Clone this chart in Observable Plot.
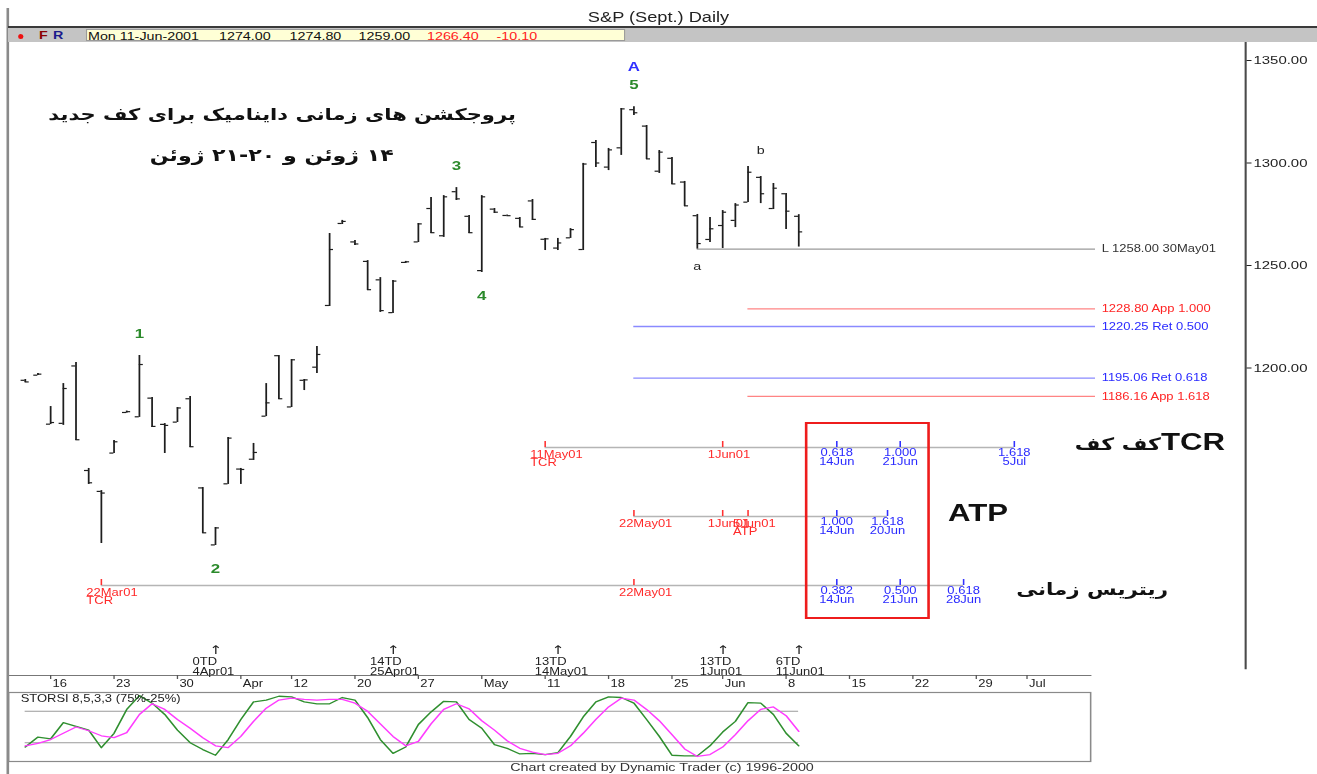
<!DOCTYPE html>
<html><head><meta charset="utf-8">
<script src="https://cdn.jsdelivr.net/npm/d3@7"></script>
<script src="https://cdn.jsdelivr.net/npm/@observablehq/plot@0.6"></script>
<style>
html,body{margin:0;padding:0;background:#fff;overflow:hidden;width:1317px;height:774px;}
#page{position:relative;width:1013px;height:774px;transform:scaleX(1.30010);transform-origin:0 0;font-family:"Liberation Sans",Arial,"DejaVu Sans",sans-serif;color:#222;}
.abs{position:absolute;white-space:nowrap;}
</style></head><body><div id="page"></div>
<script>
// ---------- data ----------
const tradingDays = ["03-14","03-15","03-16","03-19","03-20","03-21","03-22","03-23","03-26","03-27","03-28","03-29","03-30",
"04-02","04-03","04-04","04-05","04-06","04-09","04-10","04-11","04-12","04-16","04-17","04-18","04-19","04-20","04-23","04-24","04-25","04-26","04-27","04-30",
"05-01","05-02","05-03","05-04","05-07","05-08","05-09","05-10","05-11","05-14","05-15","05-16","05-17","05-18","05-21","05-22","05-23","05-24","05-25","05-29","05-30","05-31",
"06-01","06-04","06-05","06-06","06-07","06-08","06-11","06-12","06-13","06-14","06-15","06-18","06-19","06-20","06-21","06-22","06-25","06-26","06-27","06-28","06-29",
"07-02","07-03","07-05","07-06"];

const opens = [1194.0,1196.5,1172.6,1173.0,1201.0,1150.0,1139.8,1158.5,1178.3,1176.2,
1185.3,1172.5,1173.6,1185.0,1141.5,1113.7,1143.5,1150.7,1155.5,1176.5,
1206.0,1181.0,1194.0,1200.4,1230.5,1270.5,1261.5,1252.0,1243.0,1227.0,
1251.5,1261.5,1277.8,1264.5,1286.0,1274.0,1247.5,1277.5,1274.4,1273.0,
1281.5,1262.8,1258.5,1263.5,1257.8,1310.0,1298.0,1307.4,1326.0,1318.0,
1296.0,1302.3,1290.7,1274.3,1262.7,1269.5,1272.0,1280.9,1293.0,1277.8,
1285.0,1274.0];
const highs = [1194.4,1197.3,1181.2,1192.4,1202.7,1151.0,1140.2,1164.6,1179.0,1206.1,
1185.6,1172.9,1180.7,1186.1,1141.7,1122.2,1166.1,1151.0,1163.2,1192.4,
1206.1,1204.1,1194.4,1210.5,1265.6,1272.0,1262.2,1252.4,1244.1,1242.7,
1252.0,1270.5,1283.2,1284.1,1288.0,1274.4,1284.1,1277.8,1274.6,1273.4,
1282.2,1263.2,1263.2,1268.0,1299.8,1311.0,1307.1,1326.6,1327.5,1318.3,
1306.1,1302.7,1291.0,1274.9,1273.4,1276.8,1280.2,1298.3,1293.4,1290.0,
1285.1,1274.8];
const lows = [1192.9,1196.3,1172.4,1172.0,1164.6,1143.2,1114.4,1158.3,1178.0,1175.9,
1171.0,1158.3,1173.4,1161.2,1119.3,1113.4,1143.2,1143.2,1154.9,1176.3,
1184.6,1180.7,1189.0,1197.3,1230.0,1270.0,1259.8,1237.8,1227.1,1226.6,
1251.0,1261.2,1265.6,1263.7,1281.7,1265.6,1246.6,1275.4,1274.1,1268.5,
1272.0,1257.3,1257.3,1263.2,1257.3,1297.8,1296.3,1303.7,1323.2,1301.7,
1294.9,1289.5,1278.8,1258.0,1261.2,1258.3,1268.5,1280.7,1280.2,1277.3,
1267.6,1259.0];
const closes = [1193.2,1197.0,1173.4,1190.0,1165.0,1144.0,1139.0,1164.0,1178.7,1201.7,
1171.5,1172.0,1180.5,1161.6,1119.6,1122.0,1165.8,1150.5,1158.8,1183.0,
1185.0,1204.0,1194.2,1206.6,1257.8,1271.5,1260.5,1238.2,1228.0,1242.4,
1251.8,1270.3,1266.0,1283.5,1282.5,1266.0,1283.5,1276.0,1274.3,1268.8,
1272.5,1263.0,1261.0,1267.5,1299.5,1300.0,1306.4,1326.4,1324.5,1302.0,
1305.3,1289.8,1279.1,1260.7,1267.9,1276.0,1279.5,1295.5,1285.0,1287.7,
1276.5,1266.4];

// STORSI 8,5,3,3 fast (green) and slow (magenta)
const storsiFast = [18,34,31,57,51,45,17,40,78,100, 88,70,45,25,14,5,30,62,90,93, 99,98,90,87,87,97,93,65,30,8,
18,54,74,91,90,62,48,22,16,7, 8,6,9,35,66,90,98,97,88,62, 35,5,4,4,20,42,59,89,88,70, 40,20];
const storsiSlow = [20,24,30,40,50,44,36,33,41,70, 87,78,62,48,33,20,17,35,59,80, 93,96,94,93,94,94,88,75,55,35,
20,27,55,78,87,79,60,45,28,16, 10,6,8,20,40,62,82,96,93,78, 60,38,15,3,6,18,38,60,78,82, 68,43];
const storsiBands = [25, 75];
const storsiLabel = "STORSI 8,5,3,3 (75%-25%)";

const priceTicks = [1200, 1250, 1300, 1350];

const levelValues = [1258.00, 1228.80, 1220.25, 1195.06, 1186.16];
const levelLabels = ["L 1258.00 30May01", "1228.80 App 1.000", "1220.25 Ret 0.500", "1195.06 Ret 0.618", "1186.16 App 1.618"];
const levelKinds = ["low", "app", "ret", "ret", "app"];
const levelFrom = ["05-30", "06-05", "05-22", "05-22", "06-05"];

const waveText = ["1", "2", "3", "4", "5"];
const waveDates = ["03-27", "04-04", "05-02", "05-04", "05-22"];
const waveSides = ["high", "low", "high", "low", "high"];
const degreeText = ["A"];
const degreeDates = ["05-22"];
const abcText = ["a", "b"];
const abcDates = ["05-30", "06-06"];
const abcSides = ["low", "high"];

const axisTickDates = ["03-16","03-23","03-30","04-06","04-12","04-20","04-27","05-04","05-11","05-18","05-25","06-01","06-08","06-15","06-22","06-29","07-06"];
const axisTickLabels = ["16","23","30","Apr","12","20","27","May","11","18","25","Jun","8","15","22","29","Jul"];

const tdDates = ["04-04", "04-25", "05-14", "06-01", "06-11"];
const tdCounts = ["0TD", "14TD", "13TD", "13TD", "6TD"];
const tdLabels = ["4Apr01", "25Apr01", "14May01", "1Jun01", "11Jun01"];

const rowNames = ["TCR", "ATP", "RET"];
const rowFrom = ["05-11", "05-22", "03-22"];
const rowTo = ["07-05", "06-20", "06-28"];

const startRows = ["TCR", "TCR", "ATP", "ATP", "ATP", "RET", "RET"];
const startDates = ["05-11", "06-01", "05-22", "06-01", "06-05", "03-22", "05-22"];
const startTexts = ["11May01\nTCR", "1Jun01", "22May01", "1Jun01", "5Jun01\nATP", "22Mar01\nTCR", "22May01"];

const targetRows = ["TCR", "TCR", "TCR", "ATP", "ATP", "RET", "RET", "RET"];
const targetDates = ["06-14", "06-21", "07-05", "06-14", "06-20", "06-14", "06-21", "06-28"];
const targetRatios = ["0.618", "1.000", "1.618", "1.000", "1.618", "0.382", "0.500", "0.618"];
const targetLabels = ["14Jun", "21Jun", "5Jul", "14Jun", "20Jun", "14Jun", "21Jun", "28Jun"];

const windowFrom = "06-14", windowTo = "06-21";

// ---------- build tables ----------
const dayIndex = new Map(tradingDays.map((d, k) => [d, k]));
const at = d => dayIndex.get(d);
const bars = opens.map((o, k) => ({n: k, date: tradingDays[k], open: o, high: highs[k], low: lows[k], close: closes[k]}));
const barByDate = new Map(bars.map(b => [b.date, b]));
const levels = levelValues.map((v, k) => ({value: v, label: levelLabels[k], kind: levelKinds[k], from: levelFrom[k]}));
const waves = waveText.map((t, k) => ({text: t, date: waveDates[k], side: waveSides[k]}));
const degrees = degreeText.map((t, k) => ({text: t, date: degreeDates[k]}));
const abc = abcText.map((t, k) => ({text: t, date: abcDates[k], side: abcSides[k]}));
const axisTicks = axisTickDates.map((d, k) => ({date: d, label: axisTickLabels[k]}));
const tds = tdDates.map((d, k) => ({date: d, count: tdCounts[k], label: tdLabels[k]}));
const rowSpans = rowNames.map((r, k) => ({row: r, from: rowFrom[k], to: rowTo[k]}));
const starts = startRows.map((r, k) => ({row: r, date: startDates[k], text: startTexts[k]}));
const targets = targetRows.map((r, k) => ({row: r, date: targetDates[k], ratio: targetRatios[k], label: targetLabels[k]}));
const osc = storsiFast.map((f, k) => ({n: k, fast: f, slow: storsiSlow[k]}));

// ---------- layout ----------
const S = 1317 / 1013, W = 1013, H = 774;
const px = v => v / S;                    // original horizontal pixels -> page units
const X_FIRST = px(24.64), STEP = px(12.68);
const xScale = {domain: [0, 100], range: [X_FIRST, X_FIRST + 100 * STEP], axis: null};
const LINE_END = (px(1095) - X_FIRST) / STEP;
const baseStyle = {position: "absolute", left: "0px", top: "0px", background: "transparent", overflow: "visible",
  fontFamily: "'Liberation Sans', Arial, 'DejaVu Sans', sans-serif", color: "#222"};
const page = document.getElementById("page");
const hi = d => barByDate.get(d.date).high;
const lo = d => barByDate.get(d.date).low;

// ---------- price panel ----------
const kindColors = {low: ["#9a9a9a", "#333"], app: ["#ff8484", "#ff2424"], ret: ["#8a8aff", "#2a2aff"]};
const levelMarks = [];
for (const kind of ["low", "app", "ret"]) {
  const sel = levels.filter(d => d.kind === kind);
  levelMarks.push(Plot.ruleY(sel, {y: "value", x1: d => at(d.from), x2: () => LINE_END, stroke: kindColors[kind][0], strokeWidth: 1.3}));
  levelMarks.push(Plot.text(sel, {y: "value", x: () => LINE_END, text: "label", textAnchor: "start", dx: px(6), fill: kindColors[kind][1], fontSize: 10}));
}

page.appendChild(Plot.plot({
  width: W, height: H,
  marginTop: 40, marginBottom: H - 668, marginLeft: px(8), marginRight: W - px(1245),
  x: xScale,
  y: {domain: [1350, 1200], range: [60, 367.5], axis: "right", ticks: priceTicks, tickFormat: d => d.toFixed(2), tickSize: 4, tickPadding: 2, label: null},
  style: {...baseStyle, fontSize: "11.5px"},
  marks: [
    Plot.frame({anchor: "right", stroke: "#4a4a4a", strokeWidth: 1.6}),
    ...levelMarks,
    Plot.ruleX(bars, {x: "n", y1: "low", y2: "high", stroke: "#1e1e1e", strokeWidth: 1.35}),
    Plot.ruleY(bars, {y: "open", x1: d => d.n - 0.32, x2: "n", stroke: "#1e1e1e", strokeWidth: 1.2}),
    Plot.ruleY(bars, {y: "close", x1: "n", x2: d => d.n + 0.32, stroke: "#1e1e1e", strokeWidth: 1.2}),
    Plot.text(waves.filter(d => d.side === "high"), {x: d => at(d.date), y: hi, text: "text", dy: -22, fill: "#2b8a2b", fontSize: 13, fontWeight: "bold"}),
    Plot.text(waves.filter(d => d.side === "low"), {x: d => at(d.date), y: lo, text: "text", dy: 23, fill: "#2b8a2b", fontSize: 13, fontWeight: "bold"}),
    Plot.text(degrees, {x: d => at(d.date), y: hi, text: "text", dy: -40, fill: "#2f2fff", fontSize: 13, fontWeight: "bold"}),
    Plot.text(abc.filter(d => d.side === "high"), {x: d => at(d.date), y: hi, text: "text", dy: -26, fill: "#222", fontSize: 11}),
    Plot.text(abc.filter(d => d.side === "low"), {x: d => at(d.date), y: lo, text: "text", dy: 17, fill: "#222", fontSize: 11})
  ]
}));

// ---------- time projection rows ----------
page.appendChild(Plot.plot({
  width: W, height: H, margin: 0,
  x: xScale,
  y: {type: "point", domain: rowNames, range: [446, 585], padding: 0, axis: null},
  style: {...baseStyle, fontSize: "10px"},
  marks: [
    Plot.ruleY(rowSpans, {y: "row", x1: d => at(d.from), x2: d => at(d.to), stroke: "#b5b5b5", strokeWidth: 1.6}),
    Plot.ruleX(starts, {x: d => at(d.date), y1: "row", y2: "row", insetTop: -6, stroke: "#ff3030", strokeWidth: 1.2}),
    Plot.ruleX(targets, {x: d => at(d.date), y1: "row", y2: "row", insetTop: -6, stroke: "#3030ff", strokeWidth: 1.2}),
    Plot.text(starts, {x: d => at(d.date), y: "row", text: "text", textAnchor: "start", lineAnchor: "top", dx: px(-15), dy: 4, fill: "#ff2a2a", fontSize: 10, lineHeight: 0.85}),
    Plot.text(targets, {x: d => at(d.date), y: "row", text: d => d.ratio + "\n" + d.label, textAnchor: "middle", lineAnchor: "top", dy: 2, fill: "#2a2aff", fontSize: 10, lineHeight: 0.9}),
    Plot.rect([{from: windowFrom, to: windowTo, top: rowNames[0], bottom: rowNames[rowNames.length - 1]}],
      {x1: d => at(d.from), x2: d => at(d.to), y1: "top", y2: "bottom", insetLeft: -px(30), insetRight: -px(29), insetTop: -24, insetBottom: -33, fill: "none", stroke: "#ee1c1c", strokeWidth: 2})
  ]
}));

// ---------- date axis with time-count markers ----------
page.appendChild(Plot.plot({
  width: W, height: H,
  marginTop: 675, marginBottom: H - 679, marginLeft: px(8), marginRight: W - px(1090),
  x: xScale,
  style: {...baseStyle, fontSize: "10px"},
  marks: [
    Plot.frame({anchor: "top", stroke: "#777", strokeWidth: 1.2}),
    Plot.ruleX(axisTicks, {x: d => at(d.date), stroke: "#555"}),
    Plot.text(axisTicks, {x: d => at(d.date), text: "label", frameAnchor: "bottom", lineAnchor: "top", textAnchor: "start", dx: 1.5, fontSize: 10, fill: "#222"}),
    Plot.text(tds, {x: d => at(d.date), text: d => d.count + "\n" + d.label, frameAnchor: "top", lineAnchor: "bottom", textAnchor: "start", dx: px(-23), dy: -1, fontSize: 10, lineHeight: 0.92, fill: "#222"}),
    Plot.text(tds, {x: d => at(d.date), text: () => "↑", frameAnchor: "top", lineAnchor: "bottom", dy: -22, fontSize: 12, fontFamily: "DejaVu Sans", fill: "#222"})
  ]
}));

// ---------- STORSI panel ----------
page.appendChild(Plot.plot({
  width: W, height: H,
  marginTop: 692, marginBottom: H - 761, marginLeft: px(8), marginRight: W - px(1090),
  x: xScale,
  y: {domain: [-5, 105], axis: null},
  style: {...baseStyle, fontSize: "10px"},
  marks: [
    Plot.frame({stroke: "#8a8a8a", strokeWidth: 1.2}),
    Plot.ruleY(storsiBands, {x1: () => osc[0].n, x2: () => osc[osc.length - 1].n, stroke: "#9a9a9a"}),
    Plot.line(osc, {x: "n", y: "fast", stroke: "#2f8f2f", strokeWidth: 1.3}),
    Plot.line(osc, {x: "n", y: "slow", stroke: "#ff3cff", strokeWidth: 1.3}),
    Plot.text([storsiLabel], {text: d => d, frameAnchor: "top-left", textAnchor: "start", lineAnchor: "top", dx: px(12), dy: 2, fontSize: 10, fill: "#222"})
  ]
}));

// ---------- html texts ----------
function addDiv(html, css, attrs) {
  const el = document.createElement("div");
  el.className = "abs";
  el.innerHTML = html;
  el.style.cssText += css;
  if (attrs) for (const k in attrs) el.setAttribute(k, attrs[k]);
  page.appendChild(el);
  return el;
}
addDiv("", `left:${px(6.5)}px;top:8px;width:${px(3)}px;height:766px;background:#8a8a8a;`);
addDiv("S&amp;P (Sept.) Daily", `left:0;top:9px;width:${W}px;text-align:center;font-size:14px;color:#222;`);
addDiv("", `left:${px(8)}px;top:26px;width:${W}px;height:2px;background:#3a3a3a;`);
addDiv("", `left:${px(8)}px;top:28px;width:${W}px;height:14px;background:#c4c4c4;`);
addDiv("", `left:${px(86)}px;top:29px;width:${px(540)}px;height:12px;background:#ffffd6;border:1px solid #9a9a9a;box-sizing:border-box;`);
addDiv("", `left:${px(18)}px;top:33.5px;width:${px(5)}px;height:5px;border-radius:50%;background:#ee1111;`);
addDiv("F", `left:${px(39)}px;top:29px;font:bold 11px 'Liberation Sans';color:#8b0000;line-height:13px;`);
addDiv("R", `left:${px(53)}px;top:29px;font:bold 11px 'Liberation Sans';color:#1a1a8c;line-height:13px;`);
const hdrText = ["Mon 11-Jun-2001", "1274.00", "1274.80", "1259.00", "1266.40", "-10.10"];
const hdrX = [88, 219, 289.6, 358.6, 427, 496.6];
const hdrRed = [false, false, false, false, true, true];
hdrText.forEach((t, k) => addDiv(t, `left:${px(hdrX[k])}px;top:29.5px;font-size:11px;line-height:12px;color:${hdrRed[k] ? "#ff2020" : "#111"};`));

addDiv("پروجکشن های زمانی داینامیک برای کف جدید", `left:0;top:102px;width:434px;text-align:center;font:bold 16.2px 'DejaVu Sans';line-height:26px;color:#111;`, {dir: "rtl"});
addDiv("۱۴ ژوئن و ۲۰-۲۱ ژوئن", `left:0;top:142px;width:418px;text-align:center;font:bold 17px 'DejaVu Sans';line-height:26px;color:#111;`, {dir: "rtl"});

addDiv(`<span style="font:bold 24px 'Liberation Sans'">TCR</span><span style="font:bold 17px 'DejaVu Sans'">کف کف</span>`,
  `right:${W - px(1225)}px;top:428px;line-height:30px;color:#111;`, {dir: "rtl"});
addDiv("ATP", `left:${px(948)}px;top:498px;font:bold 24px 'Liberation Sans';line-height:30px;color:#111;`);
addDiv("ریتریس زمانی", `right:${W - px(1168)}px;top:575px;font:bold 16.5px 'DejaVu Sans';line-height:30px;color:#111;`, {dir: "rtl"});

addDiv("Chart created by Dynamic Trader (c) 1996-2000", `left:0;top:761px;width:${px(1324)}px;text-align:center;font-size:11px;line-height:13px;color:#333;`);
</script></body></html>
